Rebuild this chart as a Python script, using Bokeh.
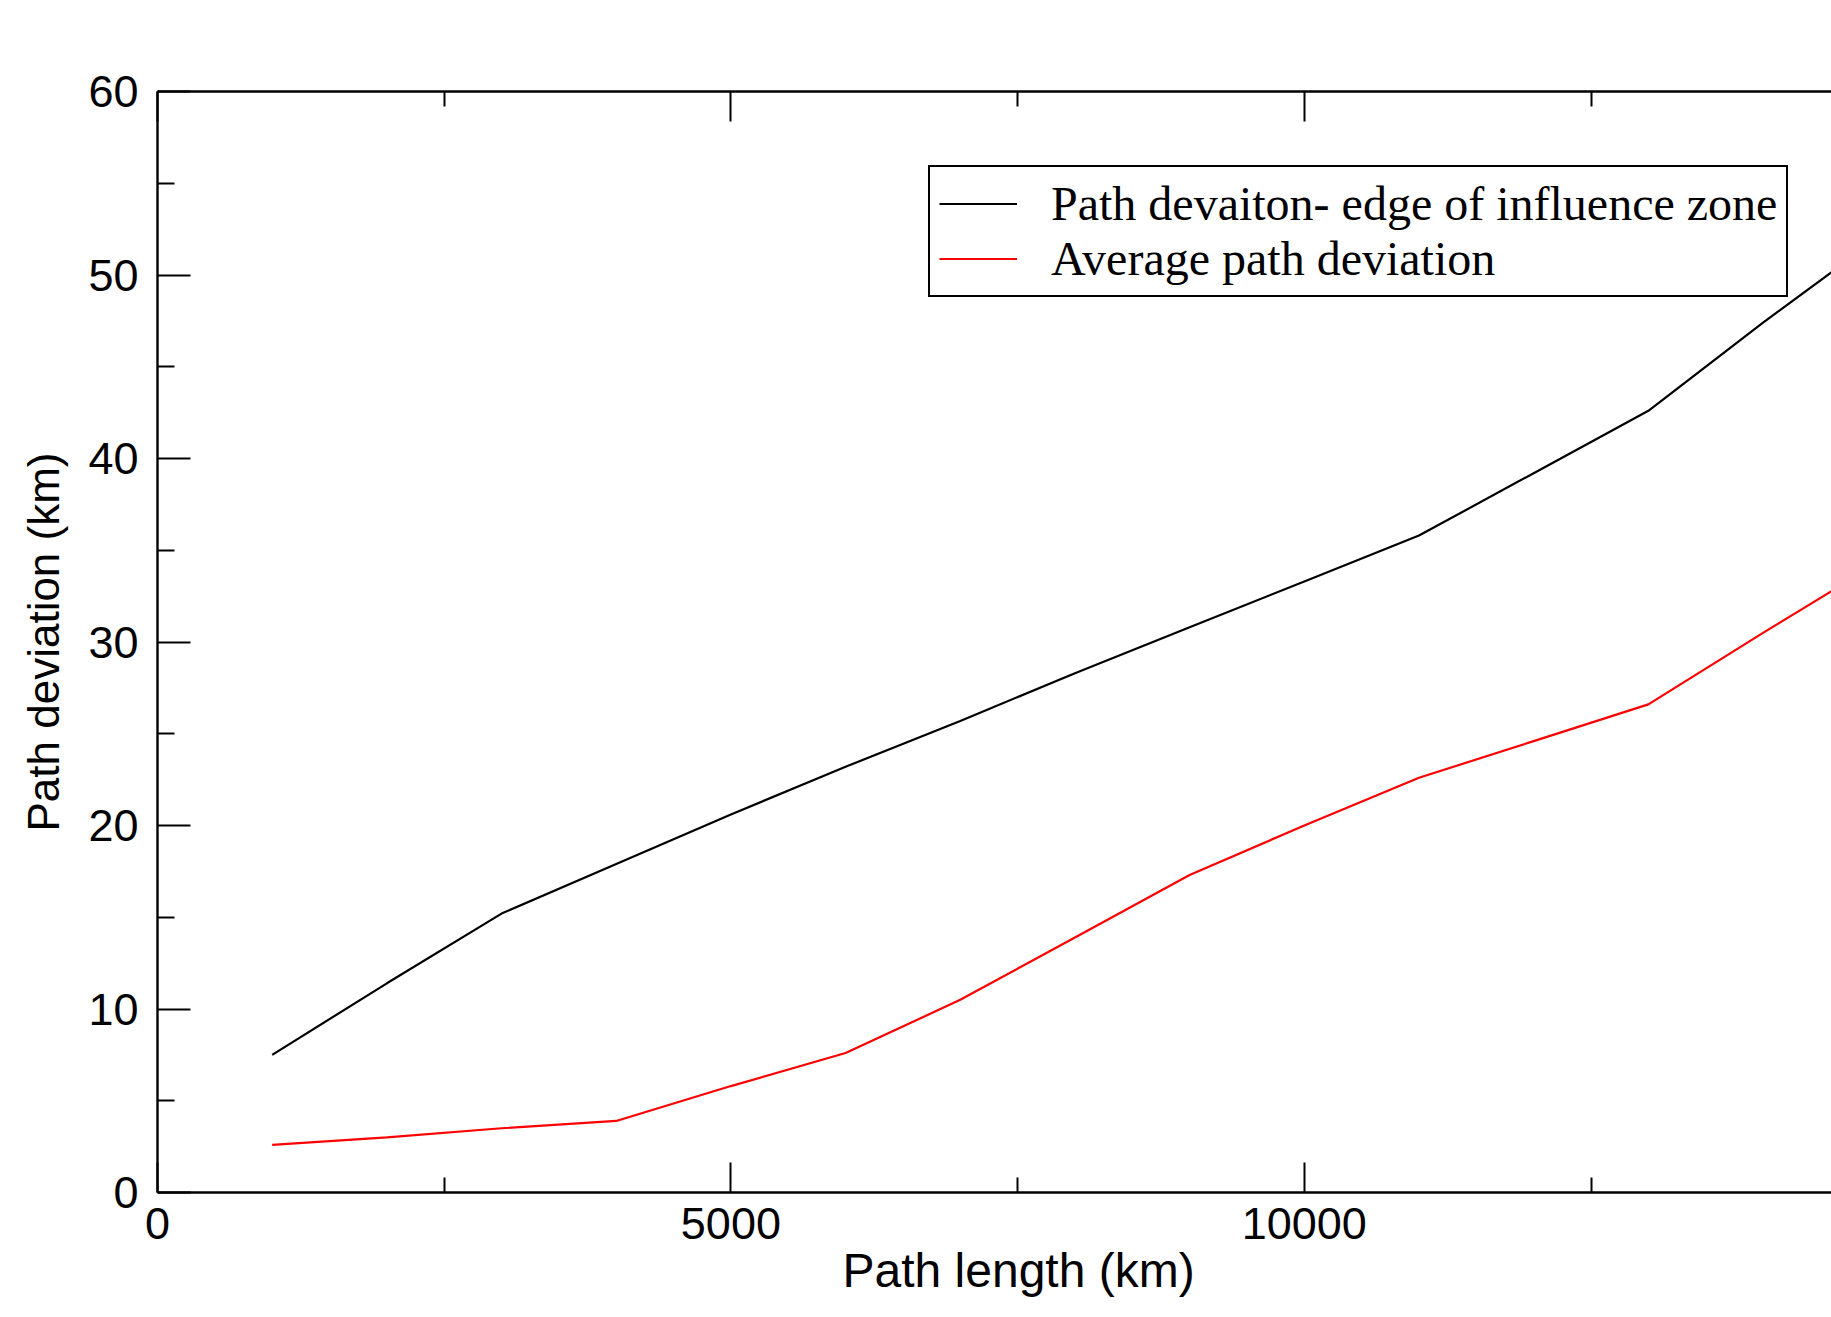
from bokeh.plotting import figure
from bokeh.models import (LinearAxis, FixedTicker, Range1d, Legend, LegendItem, Title)
from bokeh.embed import file_html
from bokeh.resources import INLINE

# ---- data ----
path_length = [1000, 2000, 3000, 4000, 5000, 6000, 7000, 8000,
               9000, 10000, 11000, 12000, 13000, 14000, 15000]
edge_deviation = [7.5, 11.4, 15.2, 17.9, 20.6, 23.2, 25.7, 28.3,
                  30.8, 33.3, 35.8, 39.2, 42.6, 47.4, 52.0]
avg_deviation = [2.6, 3.0, 3.5, 3.9, 5.8, 7.6, 10.5, 13.9,
                 17.3, 20.0, 22.6, 24.6, 26.6, 30.5, 34.3]

series_labels = ["Path devaiton- edge of influence zone", "Average path deviation"]
x_major_ticks = [0, 5000, 10000, 15000]
x_minor_ticks = [2500, 7500, 12500]
y_major_ticks = [0, 10, 20, 30, 40, 50, 60]
y_minor_ticks = [5, 15, 25, 35, 45, 55]
x_title = "Path length (km)"
y_title = "Path deviation (km)"

SANS = "Liberation Sans"
SERIF = "Liberation Serif"

p = figure(width=1831, height=1309,
           x_range=Range1d(0, 14597), y_range=Range1d(0, 60),
           output_backend="svg", toolbar_location=None,
           min_border_left=157, min_border_right=0,
           min_border_top=91, min_border_bottom=117)
p.grid.visible = False
p.outline_line_color = None
p.background_fill_color = "white"
p.border_fill_color = "white"

# bottom axis
xa = p.xaxis[0]
xa.ticker = FixedTicker(ticks=x_major_ticks, minor_ticks=x_minor_ticks)
xa.axis_line_color = "black"
xa.axis_line_width = 2.4
xa.major_tick_in = 30
xa.major_tick_out = 0
xa.minor_tick_in = 15
xa.minor_tick_out = 0
xa.major_tick_line_width = 2
xa.minor_tick_line_width = 2
xa.major_tick_line_color = "black"
xa.minor_tick_line_color = "black"
xa.major_label_text_font = SANS
xa.major_label_text_font_size = "45px"
xa.major_label_text_color = "black"
xa.major_label_standoff = 15
xa.axis_label = None

# left axis
ya = p.yaxis[0]
ya.ticker = FixedTicker(ticks=y_major_ticks, minor_ticks=y_minor_ticks)
ya.axis_line_color = "black"
ya.axis_line_width = 2.4
ya.major_tick_in = 33
ya.major_tick_out = 0
ya.minor_tick_in = 17
ya.minor_tick_out = 0
ya.major_tick_line_width = 2
ya.minor_tick_line_width = 2
ya.major_tick_line_color = "black"
ya.minor_tick_line_color = "black"
ya.major_label_text_font = SANS
ya.major_label_text_font_size = "45px"
ya.major_label_text_color = "black"
ya.major_label_standoff = 19
ya.axis_label = y_title
ya.axis_label_text_font = SANS
ya.axis_label_text_font_size = "44px"
ya.axis_label_text_font_style = "normal"
ya.axis_label_text_color = "black"
ya.axis_label_standoff = 17

# top axis (frame edge with inward ticks, no labels)
top = LinearAxis(ticker=FixedTicker(ticks=x_major_ticks, minor_ticks=x_minor_ticks),
                 axis_line_color="black", axis_line_width=2.4,
                 major_tick_in=30, major_tick_out=0, minor_tick_in=15, minor_tick_out=0,
                 major_tick_line_width=2, minor_tick_line_width=2,
                 major_label_text_font_size="0px", major_label_text_alpha=0)
p.add_layout(top, "above")

r1 = p.line(path_length, edge_deviation, line_color="black", line_width=2.2)
r2 = p.line(path_length, avg_deviation, line_color="#ff0000", line_width=2.2)

legend = Legend(items=[LegendItem(label=series_labels[0], renderers=[r1]),
                       LegendItem(label=series_labels[1], renderers=[r2])],
                location=(771, 895), margin=0, padding=9, spacing=0,
                glyph_width=78, glyph_height=55, label_height=55,
                label_standoff=34,
                label_text_font=SERIF, label_text_font_size="48px",
                label_text_color="black",
                border_line_color="black", border_line_width=2, border_line_alpha=1,
                background_fill_color="white", background_fill_alpha=1)
p.add_layout(legend)

# x axis title, centred on the full 0-15000 span of the original frame
p.add_layout(Title(text=x_title, align="left", offset=685, standoff=0,
                   text_font=SANS, text_font_size="48px", text_font_style="normal",
                   text_color="black"), "below")

open("out.html", "w").write(file_html(p, INLINE))
